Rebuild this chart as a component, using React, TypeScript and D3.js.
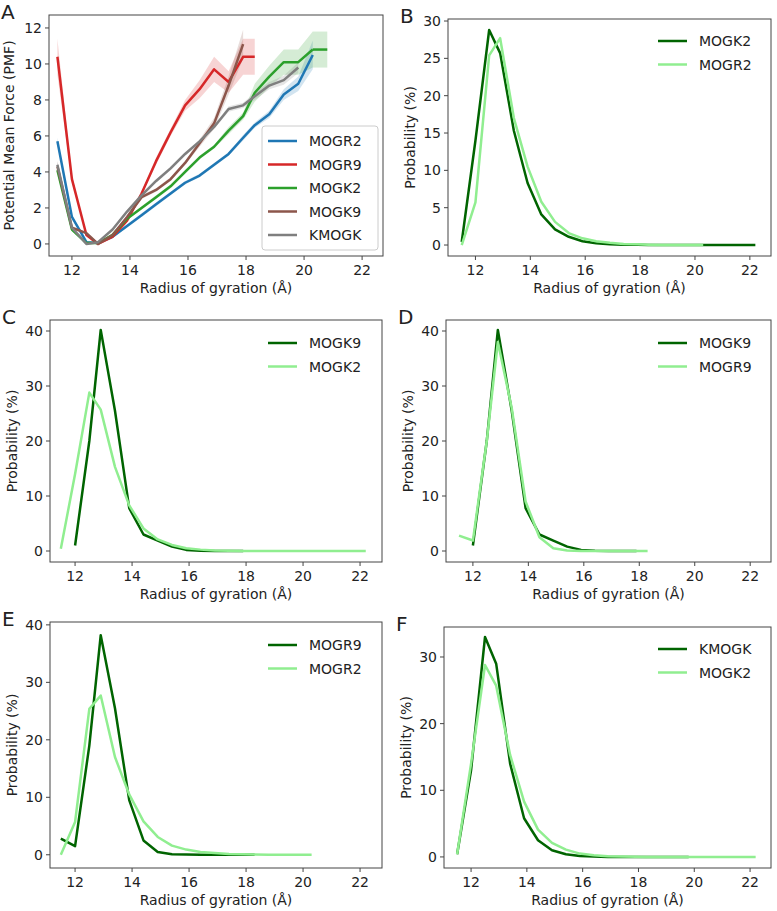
import * as d3 from 'd3'

const rg = [11.5, 12.0, 12.5, 12.9, 13.4, 13.9, 14.4, 14.9, 15.4, 15.9, 16.4, 16.9, 17.4, 17.9, 18.3, 18.8, 19.3, 19.8, 20.3, 20.8, 21.3, 21.8, 22.2]

// Panel A: PMF with error
const pmfMOGR2 = [5.7, 1.5, 0.1, 0.05, 0.4, 1.0, 1.6, 2.2, 2.8, 3.4, 3.8, 4.4, 5.0, 5.9, 6.6, 7.2, 8.3, 8.9, 10.5]
const errMOGR2 = [0.2, 0.1, 0.05, 0.05, 0.05, 0.1, 0.1, 0.1, 0.1, 0.1, 0.1, 0.1, 0.1, 0.15, 0.15, 0.2, 0.3, 0.4, 0.8]
const pmfMOGR9 = [10.4, 3.6, 0.5, 0.0, 0.4, 1.3, 2.8, 4.6, 6.2, 7.7, 8.6, 9.7, 9.0, 10.4, 10.4]
const errMOGR9 = [1.0, 0.2, 0.05, 0.05, 0.1, 0.1, 0.1, 0.2, 0.2, 0.3, 0.5, 0.7, 0.6, 1.0, 1.0]
const pmfMOGK2 = [4.1, 0.8, 0.05, 0.05, 0.5, 1.4, 2.0, 2.6, 3.2, 4.0, 4.8, 5.4, 6.3, 7.1, 8.4, 9.3, 10.1, 10.1, 10.8]
const errMOGK2 = [0.2, 0.1, 0.05, 0.05, 0.05, 0.05, 0.1, 0.1, 0.1, 0.1, 0.1, 0.1, 0.2, 0.2, 0.5, 0.6, 0.7, 0.7, 1.0]
const pmfMOGK2Tail = [10.8, 10.8]
const pmfMOGK9 = [4.3, 0.9, 0.6, 0.0, 0.5, 1.5, 2.6, 3.0, 3.6, 4.5, 5.6, 6.7, 8.8, 11.1]
const errMOGK9 = [0.3, 0.1, 0.05, 0.05, 0.05, 0.1, 0.1, 0.1, 0.1, 0.1, 0.2, 0.3, 0.5, 0.8]
const pmfKMOGK = [4.4, 0.9, 0.0, 0.1, 0.8, 1.8, 2.7, 3.5, 4.2, 5.0, 5.7, 6.5, 7.5, 7.7, 8.2, 8.8, 9.1, 9.8]
const errKMOGK = [0.2, 0.1, 0.05, 0.05, 0.05, 0.1, 0.1, 0.1, 0.1, 0.1, 0.1, 0.1, 0.15, 0.15, 0.2, 0.2, 0.25, 0.3]

// Probability distributions (%)
const probMOGK2 = [0.4, 14, 28.8, 25.7, 15.3, 8.3, 4.1, 2.1, 1.1, 0.5, 0.25, 0.1, 0.05, 0.02, 0, 0, 0, 0, 0, 0, 0, 0, 0]
const probMOGR2 = [0, 5.7, 25.4, 27.7, 17, 10.5, 5.8, 3.1, 1.6, 0.9, 0.5, 0.3, 0.15, 0.1, 0.05, 0, 0, 0, 0]
const probMOGK9 = [null, 1.0, 20, 40.2, 25.5, 7.8, 3.0, 1.9, 0.8, 0.2, 0.05, 0, 0, 0]
const probMOGR9 = [2.8, 1.5, 19, 38.2, 25.5, 9.5, 2.5, 0.5, 0.1, 0.05, 0, 0, 0, 0, 0]
const probMOGR9D = [2.8, 1.9, 20, 38, 26, 9, 2.5, 0.5, 0.1, 0, 0, 0, 0, 0, 0]
const probKMOGK = [0.4, 13, 33, 29, 14, 5.8, 2.5, 1.0, 0.4, 0.15, 0.05, 0, 0, 0, 0, 0, 0, 0]

const xTicks = [12, 14, 16, 18, 20, 22]
const FONT = 'DejaVu Sans, sans-serif'
const DARK = '#006400'
const LIGHT = '#90ee90'

type Series = { name: string; values: (number | null)[]; color: string; err?: number[]; x0?: number; legend?: boolean }
type Panel = {
  letter: string
  box: [number, number, number, number] // x0, x1, y0, y1
  xDom: [number, number]
  yDom: [number, number]
  yTicks: number[]
  yLabel: string
  xLabel: string
  series: Series[]
  legend: { x: number; y: number; w: number; h: number; frame: boolean }
}

const panels: Panel[] = [
  {
    letter: 'A', box: [49, 383, 15, 256], xDom: [11.21, 22.72], yDom: [-0.67, 12.72],
    yTicks: [0, 2, 4, 6, 8, 10, 12], yLabel: 'Potential Mean Force (PMF)', xLabel: 'Radius of gyration (Å)',
    series: [
      { name: 'MOGR2', values: pmfMOGR2, err: errMOGR2, color: '#1f77b4' },
      { name: 'MOGR9', values: pmfMOGR9, err: errMOGR9, color: '#d62728' },
      { name: 'MOGK2', values: pmfMOGK2, err: errMOGK2, color: '#2ca02c' },
      { name: 'MOGK2', values: pmfMOGK2Tail, err: [1.0, 1.0], x0: 18, color: '#2ca02c', legend: false },
      { name: 'MOGK9', values: pmfMOGK9, err: errMOGK9, color: '#8c564b' },
      { name: 'KMOGK', values: pmfKMOGK, err: errKMOGK, color: '#7f7f7f' },
    ],
    legend: { x: 262, y: 126, w: 116, h: 124, frame: true },
  },
  {
    letter: 'B', box: [448, 771, 19, 256], xDom: [11.0, 22.77], yDom: [-1.47, 30.27],
    yTicks: [0, 5, 10, 15, 20, 25, 30], yLabel: 'Probability (%)', xLabel: 'Radius of gyration (Å)',
    series: [{ name: 'MOGK2', values: probMOGK2, color: DARK }, { name: 'MOGR2', values: probMOGR2, color: LIGHT }],
    legend: { x: 652, y: 26, w: 115, h: 50, frame: false },
  },
  {
    letter: 'C', box: [50, 382, 320, 562], xDom: [11.12, 22.77], yDom: [-2.0, 42.0],
    yTicks: [0, 10, 20, 30, 40], yLabel: 'Probability (%)', xLabel: 'Radius of gyration (Å)',
    series: [{ name: 'MOGK9', values: probMOGK9, color: DARK }, { name: 'MOGK2', values: probMOGK2, color: LIGHT }],
    legend: { x: 262, y: 328, w: 115, h: 50, frame: false },
  },
  {
    letter: 'D', box: [446, 771, 320, 562], xDom: [11.03, 22.75], yDom: [-2.0, 42.0],
    yTicks: [0, 10, 20, 30, 40], yLabel: 'Probability (%)', xLabel: 'Radius of gyration (Å)',
    series: [{ name: 'MOGK9', values: probMOGK9, color: DARK }, { name: 'MOGR9', values: probMOGR9D, color: LIGHT }],
    legend: { x: 652, y: 328, w: 115, h: 50, frame: false },
  },
  {
    letter: 'E', box: [50, 382, 622, 868], xDom: [11.12, 22.77], yDom: [-2.3, 40.5],
    yTicks: [0, 10, 20, 30, 40], yLabel: 'Probability (%)', xLabel: 'Radius of gyration (Å)',
    series: [{ name: 'MOGR9', values: probMOGR9, color: DARK }, { name: 'MOGR2', values: probMOGR2, color: LIGHT }],
    legend: { x: 262, y: 630, w: 115, h: 50, frame: false },
  },
  {
    letter: 'F', box: [444, 771, 627, 868], xDom: [11.03, 22.75], yDom: [-1.66, 34.5],
    yTicks: [0, 10, 20, 30], yLabel: 'Probability (%)', xLabel: 'Radius of gyration (Å)',
    series: [{ name: 'KMOGK', values: probKMOGK, color: DARK }, { name: 'MOGK2', values: probMOGK2, color: LIGHT }],
    legend: { x: 652, y: 634, w: 115, h: 50, frame: false },
  },
]

function PanelView({ p }: { p: Panel }) {
  const [x0, x1, y0, y1] = p.box
  const x = d3.scaleLinear().domain(p.xDom).range([x0, x1])
  const y = d3.scaleLinear().domain(p.yDom).range([y1, y0])
  const items = p.series.map((s) => {
    const start = s.x0 ?? 0
    const pts = s.values
      .map((v, i) => ({ v, e: s.err ? s.err[i] : 0, r: rg[start + i] }))
      .filter((d) => d.v !== null) as { v: number; e: number; r: number }[]
    const line = d3.line<{ v: number; r: number }>().x((d) => x(d.r)).y((d) => y(d.v))
    const area = d3.area<{ v: number; e: number; r: number }>().x((d) => x(d.r)).y0((d) => y(d.v - d.e)).y1((d) => y(d.v + d.e))
    return { s, line: line(pts) ?? '', area: s.err ? area(pts) ?? '' : '' }
  })
  const leg = p.series.filter((s) => s.legend !== false)
  const cx = (x0 + x1) / 2
  const cy = (y0 + y1) / 2
  return (
    <g fontFamily={FONT} fill="#222">
      <defs>
        <clipPath id={`clip${p.letter}`}><rect x={x0} y={y0} width={x1 - x0} height={y1 - y0} /></clipPath>
      </defs>
      <g clipPath={`url(#clip${p.letter})`}>
        {items.map((it, i) => it.area && <path key={'a' + i} d={it.area} fill={it.s.color} opacity={0.2} />)}
        {items.map((it, i) => (
          <path key={'l' + i} d={it.line} fill="none" stroke={it.s.color} strokeWidth={2.5} strokeLinejoin="round" />
        ))}
      </g>
      <rect x={x0} y={y0} width={x1 - x0} height={y1 - y0} fill="none" stroke="#444" strokeWidth={1} />
      {xTicks.map((t) => (
        <g key={'x' + t}>
          <line x1={x(t)} x2={x(t)} y1={y1} y2={y1 + 4} stroke="#444" />
          <text x={x(t)} y={y1 + 19} textAnchor="middle" fontSize={14}>{t}</text>
        </g>
      ))}
      {p.yTicks.map((t) => (
        <g key={'y' + t}>
          <line x1={x0 - 4} x2={x0} y1={y(t)} y2={y(t)} stroke="#444" />
          <text x={x0 - 7} y={y(t) + 5} textAnchor="end" fontSize={14}>{t}</text>
        </g>
      ))}
      <text x={cx} y={y1 + 37} textAnchor="middle" fontSize={14}>{p.xLabel}</text>
      <text transform={`translate(${x0 - (p.letter === 'A' ? 35 : 33)},${cy}) rotate(-90)`} textAnchor="middle" fontSize={14}>
        {p.yLabel}
      </text>
      <text x={x0 - 48} y={y0 + 4} fontSize={20}>{p.letter}</text>
      {p.legend.frame && (
        <rect x={p.legend.x} y={p.legend.y} width={p.legend.w} height={p.legend.h} rx={3} fill="white" fillOpacity={0.85} stroke="#ccc" />
      )}
      {leg.map((s, i) => {
        const ly = p.legend.y + 15 + i * 23.5
        return (
          <g key={'lg' + i}>
            <line x1={p.legend.x + 6} x2={p.legend.x + 35} y1={ly} y2={ly} stroke={s.color} strokeWidth={2.5} />
            <text x={p.legend.x + 47} y={ly + 5} fontSize={14}>{s.name}</text>
          </g>
        )
      })}
    </g>
  )
}

export default function App() {
  return (
    <svg width={777} height={911} style={{ position: 'absolute', left: 0, top: 0, background: 'white' }}>
      <rect width={777} height={911} fill="white" />
      {panels.map((p) => <PanelView key={p.letter} p={p} />)}
    </svg>
  )
}
